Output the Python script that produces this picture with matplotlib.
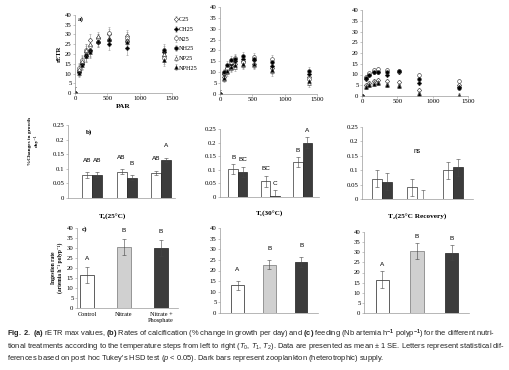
import matplotlib.pyplot as plt
import numpy as np

plt.rcParams['font.family'] = ['Liberation Serif', 'DejaVu Serif']
plt.rcParams['mathtext.fontset'] = 'custom'
plt.rcParams['mathtext.rm'] = 'Liberation Sans'
plt.rcParams['mathtext.it'] = 'Liberation Sans:italic'
plt.rcParams['mathtext.bf'] = 'Liberation Sans:bold'

# (a) rETR curves: PAR steps and one row per treatment
par = [0, 62, 105, 165, 225, 350, 525, 810, 1370]
treatments = ['C25', 'CH25', 'N25', 'NH25', 'NP25', 'NPH25']
retr_t0 = [[0, 12, 16, 21, 27, 28, 30, 29, 19],
           [0, 11, 15, 19, 22, 26, 25, 23, 21],
           [0, 13, 17, 22, 24, 28, 31, 28, 18],
           [0, 11, 15, 19.5, 21.5, 26, 27, 26.5, 22],
           [0, 12.5, 16.5, 22, 25, 29, 28, 27, 20],
           [0, 10.5, 14.5, 19, 21, 26.5, 27.5, 26, 17]]
retr_t0_err = [3, 2.5, 2.5, 3, 3, 2.5, 3, 3.5, 3]
retr_t1 = [[0, 8, 11, 13, 14, 15, 14, 12, 8],
           [0, 9, 12, 14, 15, 16, 15.5, 13, 9],
           [0, 9.5, 12, 14.5, 16.5, 14.5, 17, 16, 7],
           [0, 10, 13.5, 15.5, 16, 17.5, 16, 14.5, 10.5],
           [0, 7, 10, 12, 12.5, 13.5, 13.5, 10.5, 5],
           [0, 7.5, 10.5, 12.5, 13.5, 14, 14, 11, 6]]
retr_t1_err = [2, 1.5, 1.5, 2, 2, 2, 2, 2, 2]
retr_t2 = [[0, 5, 6, 7, 7.5, 7, 6.5, 3, 5],
           [0, 8, 10, 11, 11, 10, 11, 6, 4],
           [0, 9, 10.5, 12, 12.5, 12, 11.5, 10, 7],
           [0, 8.5, 10, 11, 11, 11, 11.5, 8, 3.5],
           [0, 4.5, 5.5, 6.5, 6.5, 5.5, 5, 1.5, 0.5],
           [0, 4, 5, 5.5, 6, 5, 4.5, 1, 0]]
retr_t2_err = [0.5, 0.8, 0.8, 0.8, 0.8, 0.8, 0.8, 0.8, 0.8]

# (b) calcification, white = autotrophic, dark = heterotrophic
calc_t0_white = [0.078, 0.090, 0.087]
calc_t0_white_err = [0.010, 0.008, 0.007]
calc_t0_dark = [0.080, 0.070, 0.130]
calc_t0_dark_err = [0.008, 0.008, 0.008]
calc_t0_letters = [['AB', 'AB', 'AB'], ['AB', 'B', 'A']]
calc_t1_white = [0.102, 0.058, 0.128]
calc_t1_white_err = [0.018, 0.020, 0.018]
calc_t1_dark = [0.092, 0.004, 0.200]
calc_t1_dark_err = [0.020, 0.020, 0.020]
calc_t1_letters = [['B', 'BC', 'B'], ['BC', 'C', 'A']]
calc_t2_white = [0.070, 0.040, 0.100]
calc_t2_white_err = [0.030, 0.030, 0.030]
calc_t2_dark = [0.060, 0.000, 0.110]
calc_t2_dark_err = [0.030, 0.030, 0.030]

# (c) feeding
diets = ['Control', 'Nitrate', 'Nitrate +\nPhosphate']
feed_t0 = [16.5, 30.5, 30.0]
feed_t0_err = [4.0, 4.0, 4.0]
feed_t1 = [13.0, 22.7, 24.0]
feed_t1_err = [2.0, 2.2, 2.3]
feed_t2 = [16.5, 30.5, 29.8]
feed_t2_err = [4.0, 4.0, 3.8]
feed_letters = ['A', 'B', 'B']

W, H = 509, 370
fig = plt.figure(figsize=(W / 100, H / 100), dpi=100)
TICK = 4.9


def add_ax(left, right, top, bottom):
    return fig.add_axes([left / W, 1 - bottom / H, (right - left) / W, (bottom - top) / H])


def style(ax):
    for s in ['top', 'right']:
        ax.spines[s].set_visible(False)
    for s in ['left', 'bottom']:
        ax.spines[s].set_color('#9a9a9a')
        ax.spines[s].set_linewidth(0.5)
    ax.tick_params(labelsize=TICK, length=1.5, width=0.4, color='#9a9a9a', pad=1)


markers = [('D', 'white', 2.3), ('D', 'black', 2.3), ('o', 'white', 2.7),
           ('o', 'black', 2.7), ('^', 'white', 2.7), ('^', 'black', 2.7)]

# ---- row a
a_boxes = [(75, 172, 15, 93), (220, 317, 7, 94), (362, 468, 10, 96)]
a_data = [(retr_t0, retr_t0_err), (retr_t1, retr_t1_err), (retr_t2, retr_t2_err)]
a_axes = []
for box, (vals, err) in zip(a_boxes, a_data):
    ax = add_ax(*box)
    for k, name in enumerate(treatments):
        m, fc, ms = markers[k]
        ax.errorbar(par, vals[k], yerr=err, fmt=m, mfc=fc, mec='#333333', ms=ms, mew=0.4,
                    ecolor='#9a9a9a', elinewidth=0.4, capsize=1, capthick=0.4, label=name)
    ax.set_xlim(0, 1500)
    ax.set_ylim(0, 40)
    ax.set_xticks([0, 500, 1000, 1500])
    ax.set_yticks(range(0, 41, 5))
    style(ax)
    a_axes.append(ax)
a_axes[0].set_ylabel('rETR', fontsize=4.8, fontweight='bold', labelpad=2)
a_axes[0].set_xlabel('PAR', fontsize=5.3, fontweight='bold', labelpad=2)
a_axes[0].text(40, 37, 'a)', fontsize=5, fontweight='bold')
h, l = a_axes[0].get_legend_handles_labels()
fig.legend(h, l, loc='upper left', bbox_to_anchor=(173 / W, 1 - 17 / H), frameon=False,
           fontsize=4.5, handletextpad=0.1, labelspacing=0.68, handlelength=0.8,
           borderaxespad=0, borderpad=0)

# ---- row b
b_boxes = [(68, 175, 125, 198), (220, 319, 129, 197), (362, 473, 127, 199)]
b_lims = [(-0.7, 2.4), (-0.55, 2.5), (-0.56, 2.56)]
b_data = [(calc_t0_white, calc_t0_white_err, calc_t0_dark, calc_t0_dark_err),
          (calc_t1_white, calc_t1_white_err, calc_t1_dark, calc_t1_dark_err),
          (calc_t2_white, calc_t2_white_err, calc_t2_dark, calc_t2_dark_err)]
b_letters = [calc_t0_letters, calc_t1_letters, None]
b_pads = [0.032, 0.016, 0]
b_titles = ['T₀(25°C)', 'T₁(30°C)', 'T₂(25°C Recovery)']
b_title_y = [217, 214, 217]
x = np.arange(3)
w = 0.29
ekw = dict(ecolor='#444444', elinewidth=0.4, capsize=1.2, capthick=0.4)
for i, box in enumerate(b_boxes):
    ax = add_ax(*box)
    wv, we, dv, de = b_data[i]
    ax.bar(x - w / 2, wv, w, yerr=we, color='white', edgecolor='#333333', lw=0.5, error_kw=ekw)
    ax.bar(x + w / 2, dv, w, yerr=de, color='#3c3c3c', edgecolor='#222222', lw=0.5, error_kw=ekw)
    ax.set_xlim(*b_lims[i])
    ax.set_ylim(0, 0.25)
    ax.set_yticks([0, 0.05, 0.1, 0.15, 0.2, 0.25])
    ax.set_yticklabels(['0', '0.05', '0.1', '0.15', '0.2', '0.25'])
    ax.set_xticks([])
    style(ax)
    if b_letters[i] is not None:
        for j in range(3):
            ax.text(x[j] - w / 2, wv[j] + we[j] + b_pads[i], b_letters[i][0][j], ha='center',
                    va='bottom', fontsize=4.6, family='Liberation Sans')
            ax.text(x[j] + w / 2, dv[j] + de[j] + b_pads[i], b_letters[i][1][j], ha='center',
                    va='bottom', fontsize=4.6, family='Liberation Sans')
    else:
        ax.text(1, 0.165, 'ns', ha='center', va='center', fontsize=4.8, family='Liberation Sans')
    cx = (box[0] + box[1]) / 2 if i != 0 else 113
    fig.text(cx / W, 1 - b_title_y[i] / H, b_titles[i], ha='center', va='center',
             fontsize=5.2, fontweight='bold')
    if i == 0:
        ax.set_ylabel('%Changes in growth\nday⁻¹', fontsize=3.8, fontweight='bold',
                      linespacing=1.5)
        ax.yaxis.set_label_coords(-0.27, 0.78)
        ax.text(0.17, 0.88, 'b)', transform=ax.transAxes, fontsize=5, fontweight='bold')

# ---- row c
c_boxes = [(77, 178, 228, 308), (220, 318, 228, 313), (364, 469, 232, 313)]
c_lims = [(-0.27, 2.46), (-0.55, 2.52), (-0.53, 2.5)]
c_data = [(feed_t0, feed_t0_err), (feed_t1, feed_t1_err), (feed_t2, feed_t2_err)]
c_pads = [3, 4.5, 2.2]
c_colors = ['white', '#d0d0d0', '#3c3c3c']
c_edges = ['#444444', '#888888', '#333333']
for i, box in enumerate(c_boxes):
    ax = add_ax(*box)
    vals, err = c_data[i]
    ax.bar(x, vals, 0.38, yerr=err, color=c_colors, edgecolor=c_edges, lw=0.6, error_kw=ekw)
    for j in range(3):
        ax.text(x[j], vals[j] + err[j] + c_pads[i], feed_letters[j], ha='center', va='bottom',
                fontsize=4.6, family='Liberation Sans')
    ax.set_xlim(*c_lims[i])
    ax.set_ylim(0, 40)
    ax.set_yticks(range(0, 41, 5))
    style(ax)
    if i == 0:
        ax.set_xticks(x)
        ax.set_xticklabels(diets, fontsize=4.5, linespacing=1.1)
        ax.tick_params(axis='x', length=0, pad=3)
        ax.set_ylabel('Ingestion rate\n(artemia h⁻¹ polyp⁻¹)', fontsize=4.0, fontweight='bold',
                      labelpad=3, linespacing=1.2)
        ax.text(-0.15, 38.5, 'c)', fontsize=5, fontweight='bold')
    else:
        ax.set_xticks([])

# ---- caption
caption = [
    r"$\mathbf{Fig.\ 2.}$ $\mathbf{(a)}$ rETR max values, $\mathbf{(b)}$ Rates of calcification (% change in growth per day) and $\mathbf{(c)}$ feeding (Nb artemia h$^{\mathbf{-1}}$ polyp$^{\mathbf{-1}}$) for the different nutri-",
    r"tional treatments according to the temperature steps from left to right ($T_0$, $T_1$, $T_2$). Data are presented as mean ± 1 SE. Letters represent statistical dif-",
    r"ferences based on post hoc Tukey's HSD test ($p$ < 0.05). Dark bars represent zooplankton (heterotrophic) supply.",
]
for k, line in enumerate(caption):
    fig.text(7 / W, 1 - (334 + 12 * k) / H, line, ha='left', va='center', fontsize=5.37,
             family=['Liberation Sans', 'DejaVu Sans'], color='#222222')

fig.savefig('out.png', dpi=100)
